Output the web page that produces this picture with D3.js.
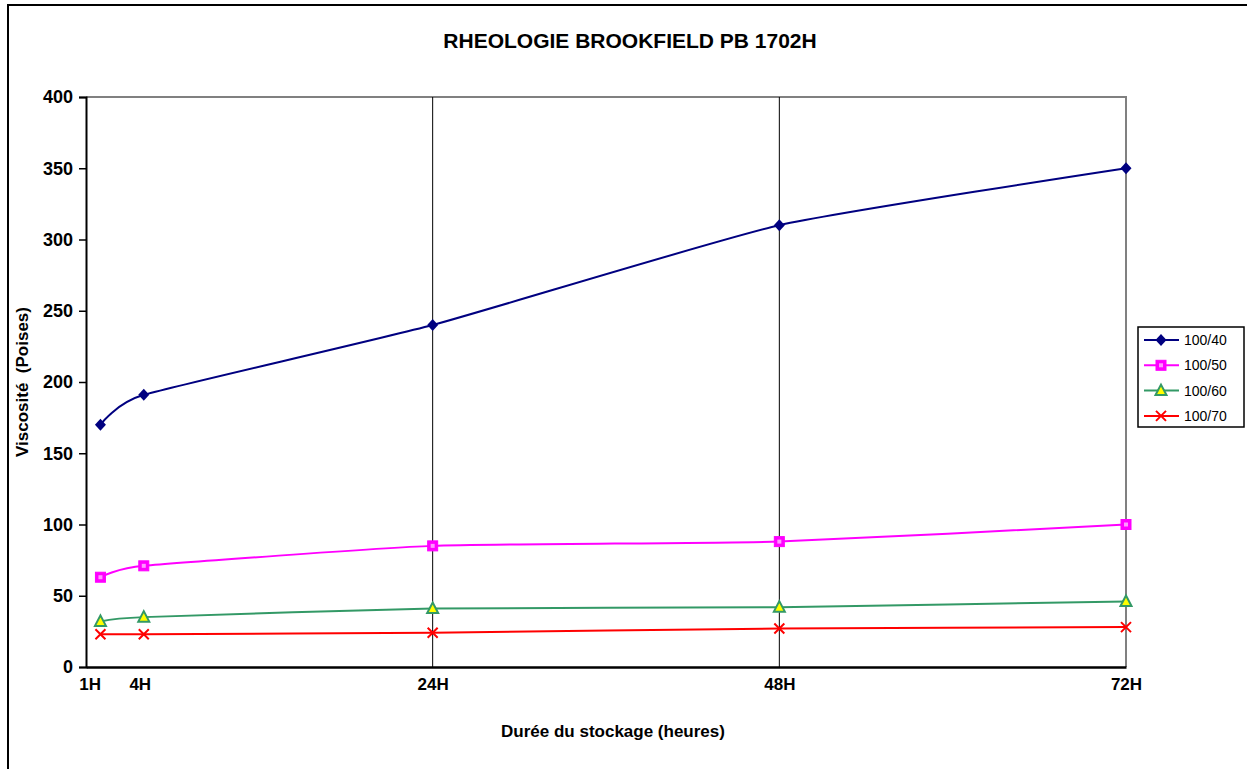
<!DOCTYPE html>
<html>
<head>
<meta charset="utf-8">
<script src="https://cdn.jsdelivr.net/npm/d3@7"></script>
<style>
  body { margin: 0; background: #fff; }
  svg text { font-family: Arial, "Liberation Sans", sans-serif; }
</style>
</head>
<body>
<div id="chart"></div>
<script>
// data
var hours = [1, 4, 24, 48, 72];
var hourLabels = ["1H", "4H", "24H", "48H", "72H"];
var seriesNames = ["100/40", "100/50", "100/60", "100/70"];
var v40 = [170, 191, 240, 310, 350];
var v50 = [63, 71, 85, 88, 100];
var v60 = [32, 35, 41, 42, 46];
var v70 = [23, 23, 24, 27, 28];
var yTicks = [0, 50, 100, 150, 200, 250, 300, 350, 400];

var w = 1247, h = 769;
// plot area ("top" is a window prop, so prefix these)
var plotLeft = 86, plotRight = 1126, plotTop = 97, plotBottom = 667;

var series = [
    {name: seriesNames[0], values: v40, color: "#000080", marker: "diamond"},
    {name: seriesNames[1], values: v50, color: "#ff00ff", marker: "square"},
    {name: seriesNames[2], values: v60, color: "#339966", marker: "triangle"},
    {name: seriesNames[3], values: v70, color: "#ff0000", marker: "cross"}
];

var svg = d3.select("#chart").append("svg")
    .attr("width", w)
    .attr("height", h);

svg.append("rect")
    .attr("width", w).attr("height", h)
    .attr("fill", "#fff");

// outer chart frame
svg.append("rect")
    .attr("x", 8).attr("y", 5)
    .attr("width", 1300).attr("height", 800)
    .attr("fill", "none")
    .attr("stroke", "#000")
    .attr("stroke-width", 2);

var x = d3.scaleLinear().domain([0, 72]).range([plotLeft, plotRight]);
var y = d3.scaleLinear().domain([0, 400]).range([plotBottom, plotTop]);

// plot area border (top and right, grey)
svg.append("path")
    .attr("d", "M" + plotLeft + "," + plotTop + "H" + plotRight + "V" + plotBottom)
    .attr("fill", "none")
    .attr("stroke", "#808080")
    .attr("stroke-width", 2);

// vertical lines at 24H and 48H
svg.selectAll("line.grid")
    .data([24, 48])
    .enter().append("line")
    .attr("class", "grid")
    .attr("x1", function(d) { return x(d); })
    .attr("x2", function(d) { return x(d); })
    .attr("y1", plotTop).attr("y2", plotBottom)
    .attr("stroke", "#000")
    .attr("stroke-width", 1);

// y axis
var yAxis = d3.axisLeft(y).tickValues(yTicks).tickSize(7).tickPadding(6);
var gy = svg.append("g")
    .attr("transform", "translate(" + plotLeft + ",0)")
    .call(yAxis);
gy.select(".domain").attr("stroke", "#000").attr("stroke-width", 2);
gy.selectAll(".tick line").attr("stroke", "#000").attr("stroke-width", 1.5);
gy.selectAll(".tick text")
    .attr("font-size", 18).attr("font-weight", "bold").attr("fill", "#000");

// x axis
var xAxis = d3.axisBottom(x)
    .tickValues(hours)
    .tickSize(0)
    .tickPadding(11)
    .tickFormat(function(d, i) { return hourLabels[i]; });
var gx = svg.append("g")
    .attr("transform", "translate(0," + plotBottom + ")")
    .call(xAxis);
gx.select(".domain").attr("stroke", "#000").attr("stroke-width", 2.5);
gx.selectAll(".tick text")
    .attr("font-size", 17).attr("font-weight", "bold").attr("fill", "#000");
// first two labels sit a bit to the left in the original
gx.selectAll(".tick text").filter(function(d) { return d == 1; })
    .attr("text-anchor", "end").attr("dx", 0);
gx.selectAll(".tick text").filter(function(d) { return d == 4; })
    .attr("dx", -4);

// lines (mild smoothing, close to Excel's)
var line = d3.line()
    .x(function(d, i) { return x(hours[i]); })
    .y(function(d) { return y(d); })
    .curve(d3.curveCardinal.tension(0.5));

svg.selectAll("path.series")
    .data(series)
    .enter().append("path")
    .attr("class", "series")
    .attr("d", function(s) { return line(s.values); })
    .attr("fill", "none")
    .attr("stroke", function(s) { return s.color; })
    .attr("stroke-width", 2);

function drawMarker(g, type, color) {
    if (type == "diamond") {
        g.append("path").attr("d", "M0,-6L5.5,0L0,6L-5.5,0Z").attr("fill", color);
    } else if (type == "square") {
        g.append("rect").attr("x", -5).attr("y", -5).attr("width", 10).attr("height", 10)
            .attr("fill", color).attr("stroke", color);
        g.append("rect").attr("x", -2).attr("y", -2).attr("width", 4).attr("height", 4)
            .attr("fill", "#ff99ff");
    } else if (type == "triangle") {
        g.append("path").attr("d", "M0,-6L5.5,4.5L-5.5,4.5Z")
            .attr("fill", "#ffff00").attr("stroke", color).attr("stroke-width", 2);
    } else {
        g.append("path").attr("d", "M-5,-5L5,5M-5,5L5,-5")
            .attr("stroke", color).attr("stroke-width", 2);
    }
}

series.forEach(function(s) {
    s.values.forEach(function(v, i) {
        var g = svg.append("g")
            .attr("transform", "translate(" + x(hours[i]) + "," + y(v) + ")");
        drawMarker(g, s.marker, s.color);
    });
});

// titles
svg.append("text")
    .attr("x", 630).attr("y", 48)
    .attr("text-anchor", "middle")
    .attr("font-size", 21).attr("font-weight", "bold")
    .text("RHEOLOGIE BROOKFIELD PB 1702H");

svg.append("text")
    .attr("x", 613).attr("y", 737)
    .attr("text-anchor", "middle")
    .attr("font-size", 17).attr("font-weight", "bold")
    .text("Durée du stockage (heures)");

svg.append("text")
    .attr("transform", "translate(28," + ((plotTop + plotBottom) / 2) + ") rotate(-90)")
    .attr("text-anchor", "middle")
    .attr("font-size", 17).attr("font-weight", "bold")
    .style("white-space", "pre")
    .text("Viscosité  (Poises)");

// legend
var legend = svg.append("g").attr("transform", "translate(1138,327)");
legend.append("rect")
    .attr("width", 106).attr("height", 100)
    .attr("fill", "#fff").attr("stroke", "#000").attr("stroke-width", 1.5);

var items = legend.selectAll("g.item")
    .data(series)
    .enter().append("g")
    .attr("class", "item")
    .attr("transform", function(d, i) { return "translate(0," + (13 + i * 25.3) + ")"; });

items.append("line")
    .attr("x1", 6).attr("x2", 41)
    .attr("stroke", function(d) { return d.color; })
    .attr("stroke-width", 2);
items.each(function(d) {
    var g = d3.select(this).append("g").attr("transform", "translate(23,0)");
    drawMarker(g, d.marker, d.color);
});
items.append("text")
    .attr("x", 46).attr("y", 5)
    .attr("font-size", 14)
    .text(function(d) { return d.name; });
</script>
</body>
</html>
